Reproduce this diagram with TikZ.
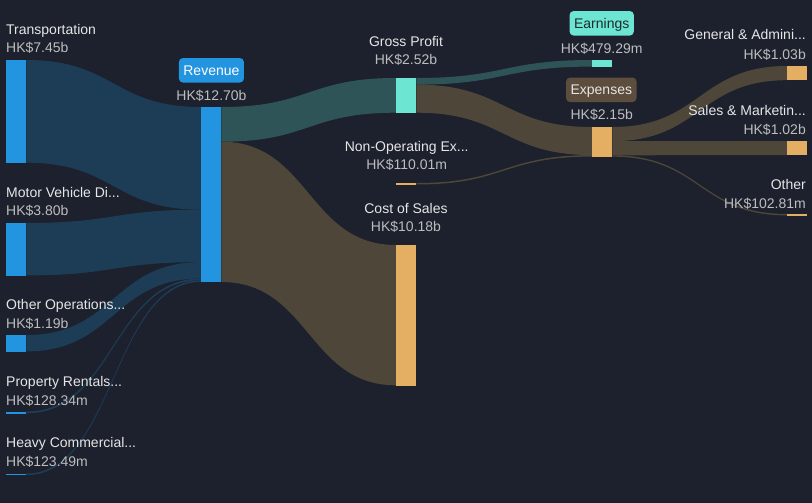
\documentclass[tikz,border=0pt]{standalone}
\usepackage{fontspec}
\setmainfont{Liberation Sans}
\definecolor{bg}{HTML}{1C212D}
\definecolor{revblue}{HTML}{2394DF}
\definecolor{revflow}{HTML}{1D3D57}
\definecolor{profit}{HTML}{6CE5D3}
\definecolor{profitflow}{HTML}{2E5457}
\definecolor{cost}{HTML}{E4AF62}
\definecolor{costflow}{HTML}{4E4639}
\definecolor{expbox}{HTML}{5C4D3D}
\definecolor{nametext}{HTML}{E6E6E6}
\definecolor{valtext}{HTML}{BDBDBD}
\definecolor{tagdark}{HTML}{1E2A2C}
\pgfdeclarelayer{back}
\pgfsetlayers{back,main}
\newcommand{\band}[6]{%
  \fill[#1] ([yshift=-#3pt]#2.north east) .. controls +(88pt,0) and +(-88pt,0) .. ([yshift=-#5pt]#4.north west)
    -- ([yshift=-#5pt-#6pt]#4.north west) .. controls +(-88pt,0) and +(88pt,0) .. ([yshift=-#3pt-#6pt]#2.north east) -- cycle;}
\begin{document}
\begin{tikzpicture}[x=1pt, y=-1pt,
    bar/.style={rectangle, inner sep=0pt, minimum width=20pt, anchor=north west},
    caption/.style={text=nametext, font=\fontsize{14}{16}\selectfont, inner sep=0pt},
    amount/.style={text=valtext, font=\fontsize{14}{16}\selectfont, inner sep=0pt},
    tag/.style={rounded corners=4pt, minimum height=24.5pt, inner xsep=4.5pt, inner ysep=0pt,
        text height=10.4pt, text depth=0pt, font=\fontsize{14}{16}\selectfont}]
    \node[bar, fill=revblue, minimum height=102.7pt] (trans) at (6,60) {};
    \node[bar, fill=revblue, minimum height=52.4pt] (motor) at (6,223) {};
    \node[bar, fill=revblue, minimum height=16.4pt] (otherops) at (6,335) {};
    \node[bar, fill=revblue, minimum height=1.8pt] (rentals) at (6,411.5) {};
    \node[bar, fill=revblue, minimum height=1.7pt] (heavy) at (6,473.5) {};
    \node[bar, fill=revblue, minimum height=175pt] (rev) at (201,107) {};
    \node[bar, fill=profit, minimum height=34.7pt] (gross) at (396,78) {};
    \node[bar, fill=cost, minimum height=1.6pt] (nonop) at (396,183) {};
    \node[bar, fill=cost, minimum height=140.3pt] (cos) at (396,245) {};
    \node[bar, fill=profit, minimum height=6.6pt] (earn) at (592,60) {};
    \node[bar, fill=cost, minimum height=29.6pt] (exp) at (592,127) {};
    \node[bar, fill=cost, minimum height=14.2pt] (ga) at (787,66) {};
    \node[bar, fill=cost, minimum height=14.1pt] (sm) at (787,141) {};
    \node[bar, fill=cost, minimum height=1.6pt] (oth) at (787,214) {};

    \begin{pgfonlayer}{back}
        \fill[bg] (0,0) rectangle (812,503);
        \band{revflow}{trans}{0}{rev}{0}{102.7}
        \band{revflow}{motor}{0}{rev}{102.7}{52.4}
        \band{revflow}{otherops}{0}{rev}{155.1}{16.4}
        \band{revflow}{rentals}{0}{rev}{171.5}{1.8}
        \band{revflow}{heavy}{0}{rev}{173.3}{1.7}
        \band{profitflow}{rev}{0}{gross}{0}{34.7}
        \band{costflow}{rev}{34.7}{cos}{0}{140.3}
        \band{profitflow}{gross}{0}{earn}{0}{6.6}
        \band{costflow}{gross}{6.6}{exp}{0}{28.1}
        \band{costflow}{nonop}{0}{exp}{28.1}{1.5}
        \band{costflow}{exp}{0}{ga}{0}{14.2}
        \band{costflow}{exp}{14.2}{sm}{0}{14.1}
        \band{costflow}{exp}{28.3}{oth}{0}{1.4}
    \end{pgfonlayer}

    \node[caption, anchor=base west] (transname) at (6,34.3) {Transportation};
    \node[amount, anchor=base west] (transval) at (6,52.5) {HK\$7.45b};
    \node[caption, anchor=base west] (motorname) at (6,197.3) {Motor Vehicle Di...};
    \node[amount, anchor=base west] (motorval) at (6,215.7) {HK\$3.80b};
    \node[caption, anchor=base west] (otheropsname) at (6,309.3) {Other Operations...};
    \node[amount, anchor=base west] (otheropsval) at (6,328) {HK\$1.19b};
    \node[caption, anchor=base west] (rentalsname) at (6,386.7) {Property Rentals...};
    \node[amount, anchor=base west] (rentalsval) at (6,405) {HK\$128.34m};
    \node[caption, anchor=base west] (heavyname) at (6,447.7) {Heavy Commercial...};
    \node[amount, anchor=base west] (heavyval) at (6,466.5) {HK\$123.49m};

    \node[tag, fill=revblue, text=white] (revtag) at (211.4,70.3) {Revenue};
    \node[amount, anchor=base] (revval) at (211.5,100) {HK\$12.70b};
    \node[caption, anchor=base] (grossname) at (406,46.7) {Gross Profit};
    \node[amount, anchor=base] (grossval) at (406,65) {HK\$2.52b};
    \node[caption, anchor=base] (nonopname) at (406.7,151) {Non-Operating Ex...};
    \node[amount, anchor=base] (nonopval) at (406.7,169.7) {HK\$110.01m};
    \node[caption, anchor=base] (cosname) at (406,213.3) {Cost of Sales};
    \node[amount, anchor=base] (cosval) at (406,231.7) {HK\$10.18b};

    \node[tag, fill=profit, text=tagdark] (earntag) at (601.7,23.3) {Earnings};
    \node[amount, anchor=base] (earnval) at (601.7,53.3) {HK\$479.29m};
    \node[tag, fill=expbox, text=nametext] (exptag) at (601.3,89.8) {Expenses};
    \node[amount, anchor=base] (expval) at (601.7,119.7) {HK\$2.15b};

    \node[caption, anchor=base east] (ganame) at (806,40) {General \& Admini...};
    \node[amount, anchor=base east] (gaval) at (806,59.3) {HK\$1.03b};
    \node[caption, anchor=base east] (smname) at (806,115) {Sales \& Marketin...};
    \node[amount, anchor=base east] (smval) at (806,134) {HK\$1.02b};
    \node[caption, anchor=base east] (othname) at (806,189) {Other};
    \node[amount, anchor=base east] (othval) at (806,208.3) {HK\$102.81m};
\end{tikzpicture}
\end{document}
